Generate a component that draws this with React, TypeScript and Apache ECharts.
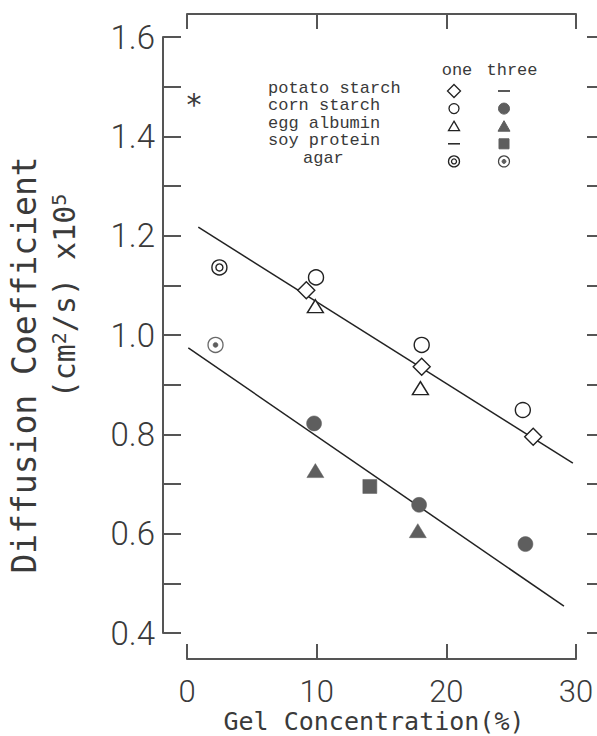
import React, { useEffect, useRef } from "react";
import * as echarts from "echarts";

// ---- data ----
const xTicks = [0, 10, 20, 30];
const yMin = 0.4;
const yMax = 1.6;

// fitted lines (end points)
const upperLine = [[0.87, 1.217], [29.76, 0.742]];
const lowerLine = [[0.1, 0.974], [29.07, 0.454]];

// "one" (open symbols)
const potatoOne = [[9.2, 1.09], [18.1, 0.936], [26.7, 0.795]];
const cornOne = [[9.95, 1.116], [18.1, 0.98], [25.9, 0.849]];
const eggOne = [[9.9, 1.058], [18.0, 0.893]];
const agarOne = [[2.5, 1.136]];

// "three" (filled symbols)
const cornThree = [[9.8, 0.822], [17.9, 0.658], [26.1, 0.579]];
const eggThree = [[9.9, 0.727], [17.8, 0.606]];
const soyThree = [[14.1, 0.695]];
const agarThree = [[2.2, 0.98]];

// legend
const legendHeader = ["one", "three"];
const legendRows = ["potato starch", "corn starch", "egg albumin", "soy protein", "agar"];
const legendOne = ["diamondOpen", "circleOpen", "triangleOpen", "dash", "bullseye"];
const legendThree = ["dash", "circleFill", "triangleFill", "squareFill", "bullseyeFill"];

const INK = "#222";
const AXIS = "#555";
const GRAY = "#5e5e5e";
const TEXT = "#3a3a3a";
const NUMFONT = "Roboto, 'Liberation Sans', sans-serif";
const MONO = "'DejaVu Sans Mono', monospace";
const COURIER = "'Liberation Mono', 'DejaVu Sans Mono', monospace";

function legendSymbol(kind: string, cx: number, cy: number): any[] {
  const s = { stroke: INK, lineWidth: 1.3, fill: "#fff" };
  const f = { fill: GRAY, stroke: GRAY, lineWidth: 1 };
  switch (kind) {
    case "diamondOpen":
      return [{ type: "polygon", shape: { points: [[cx, cy - 6.5], [cx + 6.5, cy], [cx, cy + 6.5], [cx - 6.5, cy]] }, style: s }];
    case "circleOpen":
      return [{ type: "circle", shape: { cx, cy, r: 5 }, style: s }];
    case "triangleOpen":
      return [{ type: "polygon", shape: { points: [[cx, cy - 5], [cx + 5.5, cy + 4.5], [cx - 5.5, cy + 4.5]] }, style: s }];
    case "dash":
      return [{ type: "line", shape: { x1: cx - 6, y1: cy, x2: cx + 6, y2: cy }, style: { stroke: INK, lineWidth: 1.5 } }];
    case "circleFill":
      return [{ type: "circle", shape: { cx, cy, r: 5.5 }, style: f }];
    case "triangleFill":
      return [{ type: "polygon", shape: { points: [[cx, cy - 5.5], [cx + 6, cy + 5], [cx - 6, cy + 5]] }, style: f }];
    case "squareFill":
      return [{ type: "rect", shape: { x: cx - 5, y: cy - 5, width: 10, height: 10 }, style: f }];
    case "bullseye":
      return [
        { type: "circle", shape: { cx, cy, r: 5.5 }, style: s },
        { type: "circle", shape: { cx, cy, r: 2.5 }, style: s },
      ];
    case "bullseyeFill":
      return [
        { type: "circle", shape: { cx, cy, r: 5.5 }, style: { stroke: "#444", lineWidth: 1.2, fill: "#fff" } },
        { type: "circle", shape: { cx, cy, r: 2 }, style: f },
      ];
  }
  return [];
}

export default function App() {
  const ref = useRef<HTMLDivElement>(null);

  useEffect(() => {
    if (!ref.current) return;
    const chart = echarts.init(ref.current, null, { renderer: "svg" });

    const legendX0 = 268;
    const rowY0 = 88;
    const rowDy = 17.6;
    const symDy = 3;
    const colOne = 454;
    const colThree = 504;

    const graphics: any[] = [];
    graphics.push({ type: "text", x: 457, y: 70, style: { text: legendHeader[0], fontFamily: COURIER, fontSize: 17, lineHeight: 15, fill: TEXT, align: "center", verticalAlign: "middle" } });
    graphics.push({ type: "text", x: 512, y: 70, style: { text: legendHeader[1], fontFamily: COURIER, fontSize: 17, lineHeight: 15, fill: TEXT, align: "center", verticalAlign: "middle" } });
    legendRows.forEach((label, i) => {
      const y = rowY0 + i * rowDy;
      const x = label === "agar" ? legendX0 + 35 : legendX0;
      graphics.push({ type: "text", x, y, style: { text: label, fontFamily: COURIER, fontSize: 17, lineHeight: 15, fill: TEXT, align: "left", verticalAlign: "middle" } });
      graphics.push(...legendSymbol(legendOne[i], colOne, y + symDy));
      graphics.push(...legendSymbol(legendThree[i], colThree, y + symDy));
    });
    // asterisk
    graphics.push({ type: "text", x: 194, y: 104, style: { text: "*", fontFamily: "'DejaVu Sans', sans-serif", fontSize: 30, fill: TEXT, align: "center", verticalAlign: "middle" } });
    // y title, two lines
    graphics.push({
      type: "text", x: 24, y: 365, rotation: Math.PI / 2,
      style: { text: "Diffusion Coefficient", fontFamily: MONO, fontSize: 33, fill: TEXT, align: "center", verticalAlign: "middle" },
    });
    graphics.push({
      type: "text", x: 64, y: 296, rotation: Math.PI / 2,
      style: {
        text: "{a|(cm}{s|2}{a|/s) x10}{s|5}",
        align: "center", verticalAlign: "middle",
        rich: {
          a: { fontFamily: MONO, fontSize: 30, fill: TEXT, color: TEXT },
          s: { fontFamily: MONO, fontSize: 20, fill: TEXT, color: TEXT, verticalAlign: "top" },
        },
      },
    });
    // x title
    graphics.push({ type: "text", x: 374, y: 721, style: { text: "Gel Concentration(%)", fontFamily: MONO, fontSize: 25, fill: TEXT, align: "center", verticalAlign: "middle" } });

    const axisLine = { show: true, onZero: false, lineStyle: { color: AXIS, width: 2 } };
    const axisTickStyle = { color: AXIS, width: 2 };

    const scatterBase = { type: "scatter", silent: true, xAxisIndex: 0, yAxisIndex: 0, z: 3 };
    const openStyle = { color: "#fff", borderColor: INK, borderWidth: 1.4, opacity: 1 };
    const fillStyle = { color: GRAY, borderColor: GRAY, borderWidth: 0.5, opacity: 1 };

    chart.setOption({
      animation: false,
      grid: { left: 187, right: 21, top: 37, bottom: 103 },
      graphic: graphics,
      xAxis: [
        {
          type: "value", position: "bottom", min: xTicks[0], max: xTicks[xTicks.length - 1], interval: 10, offset: 26,
          axisLine, axisTick: { show: true, inside: true, length: 15, lineStyle: axisTickStyle },
          axisLabel: { show: true, fontSize: 31, fontFamily: NUMFONT, fontWeight: 300, color: TEXT, margin: 17 },
          splitLine: { show: false },
        },
        {
          type: "value", position: "top", min: xTicks[0], max: xTicks[xTicks.length - 1], interval: 10, offset: 23,
          axisLine, axisTick: { show: true, inside: true, length: 15, lineStyle: axisTickStyle },
          axisLabel: { show: false }, splitLine: { show: false },
        },
      ],
      yAxis: [
        {
          type: "value", position: "left", min: yMin, max: yMax, interval: 0.1, offset: 24,
          axisLine, axisTick: { show: true, inside: true, length: 18, lineStyle: axisTickStyle },
          axisLabel: {
            show: true, fontSize: 33, fontFamily: NUMFONT, fontWeight: 300, color: TEXT, margin: 8,
            formatter: (v: number) => (Math.round(v * 10) % 2 === 0 ? v.toFixed(1) : ""),
          },
          splitLine: { show: false },
        },
        {
          type: "value", position: "right", min: yMin, max: yMax, interval: 0.1, offset: 22,
          axisLine, axisTick: { show: true, inside: true, length: 11, lineStyle: axisTickStyle },
          axisLabel: { show: false }, splitLine: { show: false },
        },
      ],
      series: [
        { type: "line", data: upperLine, symbol: "none", silent: true, lineStyle: { color: INK, width: 1.5 }, z: 2 },
        { type: "line", data: lowerLine, symbol: "none", silent: true, lineStyle: { color: INK, width: 1.5 }, z: 2 },
        { ...scatterBase, data: potatoOne, symbol: "diamond", symbolSize: 17, itemStyle: openStyle },
        { ...scatterBase, data: cornOne, symbol: "circle", symbolSize: 15, itemStyle: openStyle },
        { ...scatterBase, data: eggOne, symbol: "triangle", symbolSize: [16, 13], itemStyle: openStyle },
        { ...scatterBase, data: agarOne, symbol: "circle", symbolSize: 15, itemStyle: openStyle },
        { ...scatterBase, data: agarOne, symbol: "circle", symbolSize: 7, itemStyle: openStyle, z: 4 },
        { ...scatterBase, data: cornThree, symbol: "circle", symbolSize: 15, itemStyle: fillStyle },
        { ...scatterBase, data: eggThree, symbol: "triangle", symbolSize: [17, 14], itemStyle: fillStyle },
        { ...scatterBase, data: soyThree, symbol: "rect", symbolSize: 14, itemStyle: fillStyle },
        { ...scatterBase, data: agarThree, symbol: "circle", symbolSize: 15, itemStyle: { color: "#fff", borderColor: "#444", borderWidth: 1.3 } },
        { ...scatterBase, data: agarThree, symbol: "circle", symbolSize: 5, itemStyle: fillStyle, z: 4 },
      ],
    });

    return () => chart.dispose();
  }, []);

  return (
    <div
      ref={ref}
      style={{ position: "absolute", left: 0, top: 0, width: 597, height: 736, background: "#fff" }}
    />
  );
}
